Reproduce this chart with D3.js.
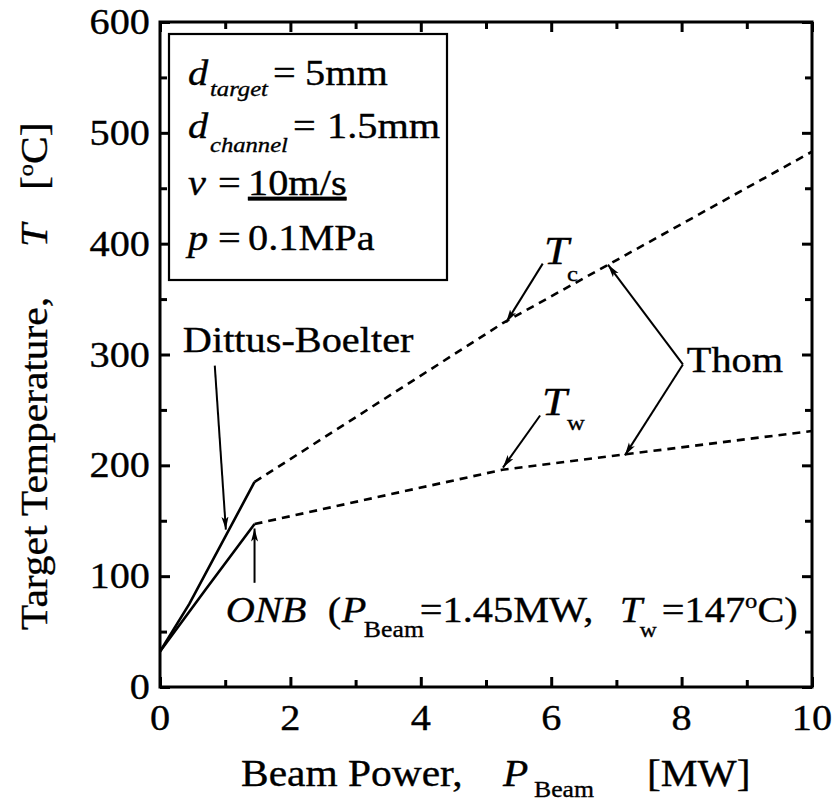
<!DOCTYPE html>
<html>
<head>
<meta charset="utf-8">
<script src="https://cdn.jsdelivr.net/npm/d3@7"></script>
<style>
  body { margin: 0; background: #fff; }
  svg { display: block; font-family: "Liberation Serif", "Times New Roman", serif; }
</style>
</head>
<body>
<div id="chart"></div>
<script>
// beam power [MW] vs target temperature [C]
var tcSolidP = [0, 0.45, 1.45];
var tcSolidT = [32, 75, 185];
var twSolidP = [0, 0.7, 1.45];
var twSolidT = [32, 88, 147];
var tcDashP = [1.45, 5.25, 10];
var tcDashT = [185, 328, 483];
var twDashP = [1.45, 5.25, 10];
var twDashT = [147, 196, 231];

var xMajor = [0, 2, 4, 6, 8, 10];
var xMinor = [1, 3, 5, 7, 9];
var yMajor = [0, 100, 200, 300, 400, 500, 600];
var yMinor = [50, 150, 250, 350, 450, 550];

// arrows: [from P, from T, to P, to T]
var arrows = [
  [0.84, 290, 1.01, 142],   // Dittus-Boelter
  [1.45, 94, 1.45, 143],    // ONB
  [5.87, 382, 5.31, 329],   // Tc
  [5.83, 245, 5.26, 198],   // Tw
  [8.02, 291, 6.87, 381],   // Thom -> Tc
  [8.02, 291, 7.13, 209]    // Thom -> Tw
];

var W = 838, H = 811;
var SX = 1.12; // the scanned type is a bit wider than Times

var svg = d3.select("#chart").append("svg").attr("width", W).attr("height", H);

var x = d3.scaleLinear().domain([0, 10]).range([160, 812]);
var y = d3.scaleLinear().domain([0, 600]).range([687, 22]);

var defs = svg.append("defs");
defs.append("marker").attr("id", "ah")
  .attr("markerUnits", "userSpaceOnUse")
  .attr("markerWidth", 14).attr("markerHeight", 8)
  .attr("refX", 13).attr("refY", 3.5)
  .attr("orient", "auto")
  .append("path").attr("d", "M0,0 L13,3.5 L0,7 L3,3.5 z").attr("fill", "#000");

function rich(parent, px, py, segs, o)
{
  o = o || {};
  var tr = "translate(" + px + "," + py + ")";
  if(o.rot) tr += " rotate(" + o.rot + ")";
  tr += " scale(" + SX + ",1)";
  var g = parent.append("g").attr("transform", tr);
  var t = g.append("text")
    .attr("font-size", o.size || 36)
    .attr("text-anchor", o.anchor || "start")
    .attr("fill", "#000")
    .attr("stroke", "#000")
    .attr("stroke-width", 0.35);
  segs.forEach(function(s) {
    var ts = t.append("tspan").text(s.t).attr("y", s.off || 0);
    if(s.x != null) ts.attr("x", s.x / SX);
    if(s.it) ts.attr("font-style", "italic");
    if(s.sz) ts.attr("font-size", s.sz);
    if(s.ul) ts.attr("text-decoration", "underline");
  });
  return g;
}

// ticks, all pointing inward
function ticks(axis, tr, vals, len)
{
  var g = svg.append("g").attr("transform", tr)
    .call(axis.tickValues(vals).tickSizeInner(-len).tickSizeOuter(0).tickFormat(""));
  g.select(".domain").remove();
  g.selectAll("line").attr("stroke", "#000").attr("stroke-width", 3);
  return g;
}
ticks(d3.axisBottom(x), "translate(0,687)", xMajor, 10);
ticks(d3.axisBottom(x), "translate(0,687)", xMinor, 7);
ticks(d3.axisTop(x), "translate(0,22)", xMajor, 10);
ticks(d3.axisTop(x), "translate(0,22)", xMinor, 7);
ticks(d3.axisLeft(y), "translate(160,0)", yMajor, 10);
ticks(d3.axisLeft(y), "translate(160,0)", yMinor, 7);
ticks(d3.axisRight(y), "translate(812,0)", yMajor, 10);
ticks(d3.axisRight(y), "translate(812,0)", yMinor, 7);

svg.append("rect")
  .attr("x", x(0)).attr("y", y(600))
  .attr("width", x(10) - x(0)).attr("height", y(0) - y(600))
  .attr("fill", "none").attr("stroke", "#000").attr("stroke-width", 3);

// tick labels
xMajor.forEach(function(v) {
  rich(svg, x(v), 730, [{t: String(v)}], {anchor: "middle"});
});
yMajor.forEach(function(v) {
  rich(svg, x(0) - 10, y(v) + 12, [{t: String(v)}], {anchor: "end"});
});

// axis titles
rich(svg, 241, 786, [
  {t: "Beam Power,"},
  {t: "P", x: 262, it: true},
  {t: "Beam", x: 293, sz: 23, off: 11},
  {t: "[MW]", x: 406, off: 0}
], {size: 37});
rich(svg, 47, 630, [
  {t: "Target Temperature,"},
  {t: "T", x: 383, it: true},
  {t: "[", x: 440},
  {t: "o", sz: 22, off: -14},
  {t: "C]", off: 0}
], {rot: -90, size: 37});

// curves
var line = d3.line().x(function(d) { return x(d[0]); }).y(function(d) { return y(d[1]); });
function curve(ps, ts, dashed)
{
  svg.append("path")
    .datum(d3.zip(ps, ts))
    .attr("d", line)
    .attr("fill", "none")
    .attr("stroke", "#000")
    .attr("stroke-width", 2.6)
    .attr("stroke-dasharray", dashed ? "8,6" : null);
}
curve(tcSolidP, tcSolidT, false);
curve(twSolidP, twSolidT, false);
curve(tcDashP, tcDashT, true);
curve(twDashP, twDashT, true);

arrows.forEach(function(a) {
  svg.append("line")
    .attr("x1", x(a[0])).attr("y1", y(a[1]))
    .attr("x2", x(a[2])).attr("y2", y(a[3]))
    .attr("stroke", "#000").attr("stroke-width", 2)
    .attr("marker-end", "url(#ah)");
});

// parameter box
svg.append("rect").attr("x", 169).attr("y", 34).attr("width", 278).attr("height", 246)
  .attr("fill", "#fff").attr("stroke", "#000").attr("stroke-width", 2.2);
rich(svg, 188, 85, [
  {t: "d", it: true},
  {t: "target", x: 22, it: true, sz: 22, off: 11},
  {t: "=", x: 85, off: 0},
  {t: "5mm", x: 117}
]);
rich(svg, 188, 138, [
  {t: "d", it: true},
  {t: "channel", x: 22, it: true, sz: 22, off: 14},
  {t: "=", x: 105, off: 0},
  {t: "1.5mm", x: 139}
]);
rich(svg, 188, 195, [
  {t: "v", it: true},
  {t: "=", x: 30},
  {t: "10m/s", x: 60, ul: true}
]);
rich(svg, 188, 250, [
  {t: "p", it: true},
  {t: "=", x: 30},
  {t: "0.1MPa", x: 60}
]);

// annotations
rich(svg, x(0.35), y(302), [{t: "Dittus-Boelter"}]);
rich(svg, x(5.89), y(382), [
  {t: "T", it: true, sz: 40},
  {t: "c", x: 23, sz: 22, off: 17}
]);
rich(svg, x(5.86), y(245), [
  {t: "T", it: true, sz: 40},
  {t: "w", x: 25, sz: 22, off: 15}
]);
rich(svg, x(8.08), y(284), [{t: "Thom"}]);
rich(svg, x(1.01), y(58.6), [
  {t: "ONB", it: true},
  {t: "(", x: 102},
  {t: "P", x: 116, it: true},
  {t: "Beam", x: 138, sz: 23, off: 15},
  {t: "=1.45MW,", x: 194, off: 0},
  {t: "T", x: 394, it: true},
  {t: "w", x: 414, sz: 21, off: 15},
  {t: "=147", x: 436, off: 0},
  {t: "o", sz: 22, off: -14},
  {t: "C)", off: 0}
]);
</script>
</body>
</html>
